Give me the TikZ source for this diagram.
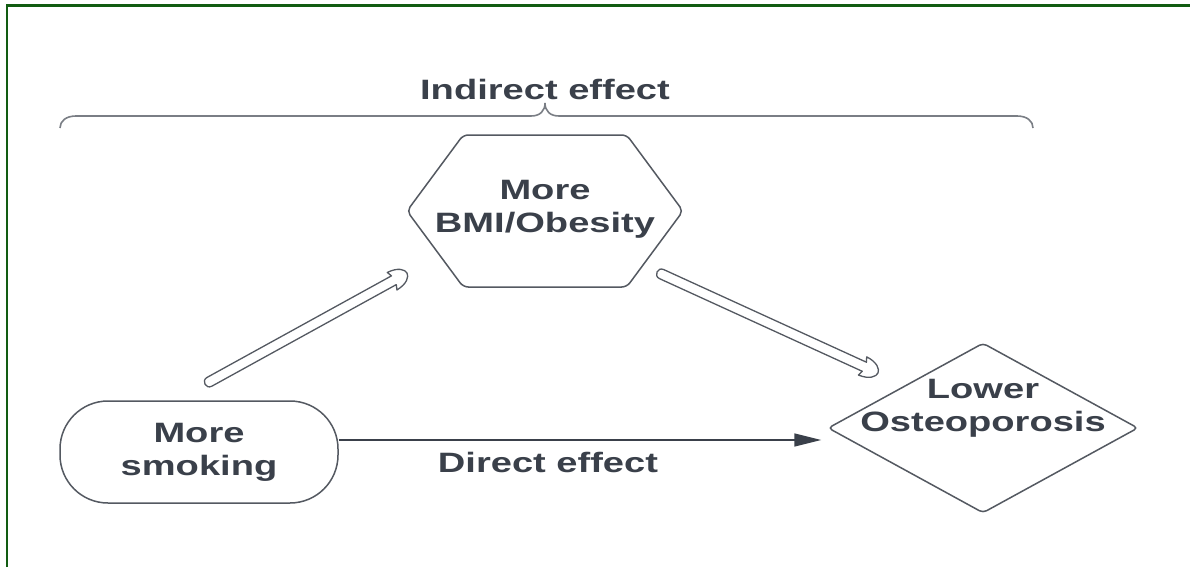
\documentclass[tikz,border=0pt]{standalone}
\usepackage{fontspec}
\usetikzlibrary{shapes.geometric,shapes.symbols,arrows.meta,calc}
\newfontfamily\labfont{Liberation Sans}[FakeStretch=1.36]
\definecolor{txtgray}{RGB}{58,64,74}
\definecolor{linegray}{RGB}{84,89,97}
\definecolor{bracegray}{RGB}{122,126,133}
\definecolor{framegreen}{RGB}{18,92,18}
\tikzset{
  lab/.style={font=\labfont\bfseries\fontsize{28}{33}\selectfont, text=txtgray, align=center, inner sep=0pt},
  shapeline/.style={draw=linegray, line width=1.5pt},
  direct/.style={draw=txtgray, line width=1.5pt, -{Triangle[length=27pt,width=13pt]}},
  hollowarrow/.style={draw=linegray, line width=1.3pt, fill=white, line join=round,
    to path={let \p1=(\tikztostart), \p2=(\tikztotarget),
      \n1={atan2(\y2-\y1,\x2-\x1)}, \n2={veclen(\x2-\x1,\y2-\y1)} in
      ([shift={(\p1)},rotate=\n1]5pt,5pt)
      -- ([shift={(\p1)},rotate=\n1]\n2-15pt,5pt)
      -- ([shift={(\p1)},rotate=\n1]\n2-17pt,10pt)
      .. controls ([shift={(\p1)},rotate=\n1]\n2-5pt,9.5pt) and ([shift={(\p1)},rotate=\n1]\n2+0pt,4pt)
      .. ([shift={(\p1)},rotate=\n1]\n2+0pt,0pt)
      .. controls ([shift={(\p1)},rotate=\n1]\n2+0pt,-4pt) and ([shift={(\p1)},rotate=\n1]\n2-5pt,-9.5pt)
      .. ([shift={(\p1)},rotate=\n1]\n2-17pt,-10pt)
      -- ([shift={(\p1)},rotate=\n1]\n2-15pt,-5pt)
      -- ([shift={(\p1)},rotate=\n1]5pt,-5pt)
      .. controls ([shift={(\p1)},rotate=\n1]-1.67pt,-5pt) and ([shift={(\p1)},rotate=\n1]-1.67pt,5pt)
      .. ([shift={(\p1)},rotate=\n1]5pt,5pt) -- cycle}},
}
\begin{document}
\begin{tikzpicture}[x=1pt,y=-1pt]
\useasboundingbox (0,0) rectangle (1190,567);
\fill[white] (0,0) rectangle (1190,567);
\draw[framegreen, line width=2.2pt] (7,567) -- (7,5.5) -- (1190,5.5);

% brace
\draw[bracegray, line width=1.6pt] (60,128) .. controls (60,121) and (66,116) .. (76,116)
  -- (531,116) .. controls (540,116) and (545,111) .. (545,103)
  .. controls (545,111) and (550,116) .. (559,116)
  -- (1017,116) .. controls (1027,116) and (1033,121) .. (1033,128);
\node[lab, anchor=base] (ind) at (545,100) {Indirect effect};

% nodes
\node[shapeline, signal, signal to=west and east, signal pointer angle=107, inner sep=0pt,
      minimum width=276pt, minimum height=152pt, rounded corners=5pt] (hex) at (545,211) {};
\node[lab] (hext) at (545,209) {More\\BMI/Obesity};
\node[lab, shapeline, rectangle, rounded corners=48pt, minimum width=278pt, minimum height=102pt] (smoke) at (199,452) {More\\smoking};
\node[shapeline, diamond, aspect=1.82, minimum width=310pt, minimum height=170pt, inner sep=0pt, rounded corners=4pt] (dia) at (983,428) {};
\node[lab] (diat) at (983,408) {Lower\\Osteoporosis};

% direct effect
\coordinate (ds) at ([yshift=12pt]smoke.east);
\coordinate (de) at (ds -| dia.west);
\draw[direct, shorten >=6pt] (ds) -- (de);
\node[lab, anchor=base] (dir) at (548,472) {Direct effect};

% hollow arrows
\coordinate (a1s) at ($(smoke.north)+(6,-16)$);
\coordinate (a1e) at ($(hex.center)+(-138,62)$);
\draw[hollowarrow] (a1s) to (a1e);
\coordinate (a2s) at ($(hex.center)+(112,61)$);
\coordinate (a2e) at ($(dia.center)+(-105,-55)$);
\draw[hollowarrow] (a2s) to (a2e);
\end{tikzpicture}
\end{document}
